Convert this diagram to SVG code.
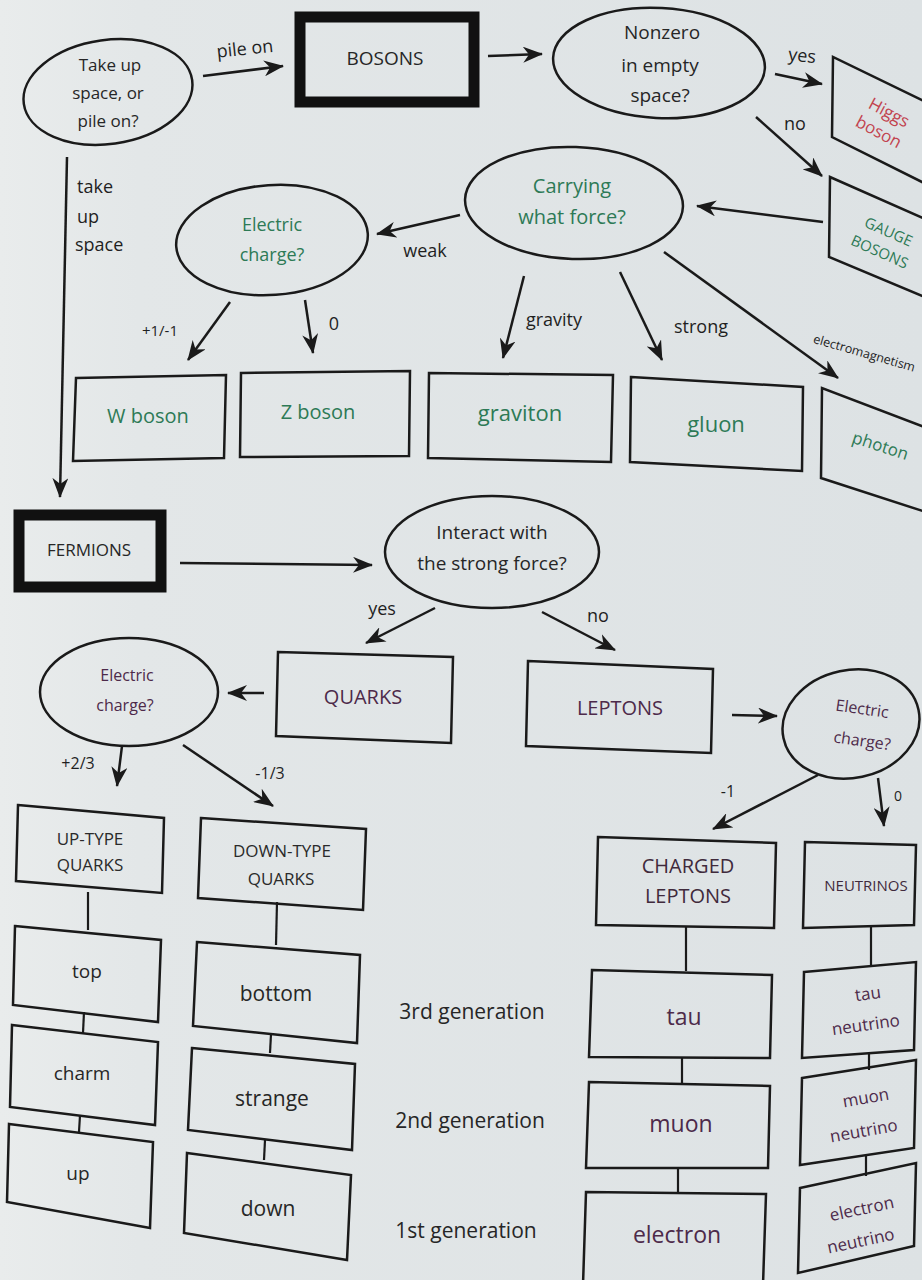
<svg xmlns="http://www.w3.org/2000/svg" width="922" height="1280" viewBox="0 0 922 1280">
<defs>
<marker id="ah" markerUnits="userSpaceOnUse" markerWidth="20" markerHeight="16" viewBox="0 0 20 16" refX="19" refY="8" orient="auto">
<path d="M0,0 L20,8 L0,16 L6,8 z" fill="#1a1a1a"/>
</marker>
<linearGradient id="bg" x1="0" y1="0" x2="1" y2="0">
<stop offset="0" stop-color="#e9ecec"/>
<stop offset="0.15" stop-color="#e3e7e8"/>
<stop offset="1" stop-color="#dde2e4"/>
</linearGradient>
</defs>
<style>
text{font-family:"Open Sans","Noto Sans","Liberation Sans",sans-serif;text-anchor:middle;dominant-baseline:middle}
.k{fill:#262626;font-size:19px}
.g{fill:#2d7a56;font-size:20px}
.p{fill:#4d2a4a;font-size:20px}
.r{fill:#c2434f;font-size:17px}
.lbl{fill:#1f1f1f;font-size:18px}
.sh{fill:none;stroke:#1a1a1a;stroke-width:2.5}
.thick{fill:none;stroke:#111;stroke-width:11}
.c{fill:none;stroke:#1a1a1a;stroke-width:2.5;marker-end:url(#ah)}
.ln{fill:none;stroke:#1a1a1a;stroke-width:2.2}
</style>
<rect width="922" height="1280" fill="url(#bg)"/>

<g id="connectors">
<path class="c" d="M203,76 L283,66"/>
<path class="c" d="M488,56 L542,54"/>
<path class="c" d="M775,74 L822,84"/>
<path class="c" d="M756,117 L822,176"/>
<path class="c" d="M823,222 L697,206"/>
<path class="c" d="M460,215 L377,234"/>
<path class="c" d="M67,157 L60,497"/>
<path class="c" d="M230,302 L188,360"/>
<path class="c" d="M305,300 L313,353"/>
<path class="c" d="M524,276 L503,358"/>
<path class="c" d="M620,272 L662,360"/>
<path class="c" d="M664,252 L838,378"/>
<path class="c" d="M180,563 L372,565"/>
<path class="c" d="M435,608 L366,643"/>
<path class="c" d="M542,612 L615,650"/>
<path class="c" d="M264,693 L228,693"/>
<path class="c" d="M732,715 L777,716"/>
<path class="c" d="M122,746 L117,786"/>
<path class="c" d="M183,745 L273,806"/>
<path class="c" d="M818,775 L713,829"/>
<path class="c" d="M878,778 L884,826"/>
<path class="ln" d="M88,892 L88,930"/>
<path class="ln" d="M84,1012 L83,1033"/>
<path class="ln" d="M80,1115 L79,1132"/>
<path class="ln" d="M277,902 L276,945"/>
<path class="ln" d="M271,1034 L270,1053"/>
<path class="ln" d="M265,1140 L264,1160"/>
<path class="ln" d="M686,926 L686,971"/>
<path class="ln" d="M682,1058 L682,1083"/>
<path class="ln" d="M678,1168 L678,1193"/>
<path class="ln" d="M871,926 L871,966"/>
<path class="ln" d="M869,1054 L869,1070"/>
<path class="ln" d="M866,1155 L866,1176"/>
<text class="lbl" x="245" y="50" transform="rotate(-6 245 50)">pile on</text>
<text class="lbl" x="802" y="57" transform="rotate(6 802 57)">yes</text>
<text class="lbl" x="795" y="125">no</text>
<text class="lbl" x="425" y="252">weak</text>
<text class="lbl" x="77" y="188" style="text-anchor:start">take</text>
<text class="lbl" x="77" y="218" style="text-anchor:start">up</text>
<text class="lbl" x="75" y="246" style="text-anchor:start">space</text>
<text class="lbl" x="160" y="332" style="font-size:15px">+1/-1</text>
<text class="lbl" x="334" y="325">0</text>
<text class="lbl" x="554" y="321">gravity</text>
<text class="lbl" x="701" y="328">strong</text>
<text class="lbl" x="864" y="354" style="font-size:12.5px" transform="rotate(16 864 354)">electromagnetism</text>
<text class="lbl" x="382" y="610">yes</text>
<text class="lbl" x="598" y="617">no</text>
<text class="lbl" x="78" y="765" style="font-size:16px">+2/3</text>
<text class="lbl" x="270" y="775" style="font-size:16px">-1/3</text>
<text class="lbl" x="728" y="793" style="font-size:16px">-1</text>
<text class="lbl" x="898" y="797" style="font-size:14px">0</text>
</g>

<g id="q-space">
<ellipse class="sh" cx="108" cy="92" rx="85" ry="52" transform="rotate(-8 108 92)"/>
<text class="k" x="110" y="66" style="font-size:17px">Take up</text>
<text class="k" x="108" y="94" style="font-size:17px">space, or</text>
<text class="k" x="108" y="122" style="font-size:17px">pile on?</text>
</g>
<g id="bosons">
<rect class="thick" x="300" y="17" width="174" height="85"/>
<text class="k" x="385" y="60">BOSONS</text>
</g>
<g id="q-nonzero">
<ellipse class="sh" cx="659" cy="63" rx="106" ry="55" transform="rotate(3 659 63)"/>
<text class="k" x="662" y="34">Nonzero</text>
<text class="k" x="660" y="67">in empty</text>
<text class="k" x="660" y="97">space?</text>
</g>
<g id="higgs">
<path class="sh" d="M932,105 L833,57 L832,137 L932,187"/>
<text class="r" x="884" y="122" transform="rotate(28 884 122)"><tspan x="884" dy="-10">Higgs</tspan><tspan x="884" dy="22">boson</tspan></text>
</g>
<g id="gauge">
<path class="sh" d="M932,222 L830,177 L829,257 L932,300"/>
<text x="884" y="242" style="fill:#2d7a56;font-size:15px" transform="rotate(24 884 242)"><tspan x="884" dy="-10">GAUGE</tspan><tspan x="884" dy="22">BOSONS</tspan></text>
</g>
<g id="q-force">
<ellipse class="sh" cx="574" cy="203" rx="109" ry="56" transform="rotate(2 574 203)"/>
<text class="g" x="572" y="188">Carrying</text>
<text class="g" x="572" y="219">what force?</text>
</g>
<g id="q-charge-boson">
<ellipse class="sh" cx="272" cy="240" rx="96" ry="55" transform="rotate(-4 272 240)"/>
<text class="g" x="272" y="226" style="font-size:18px">Electric</text>
<text class="g" x="272" y="256" style="font-size:18px">charge?</text>
</g>
<g id="w-boson">
<path class="sh" d="M76,378 L226,375 L224,458 L73,461 Z"/>
<text class="g" x="148" y="418">W boson</text>
</g>
<g id="z-boson">
<path class="sh" d="M241,373 L410,371 L409,456 L240,457 Z"/>
<text class="g" x="318" y="414">Z boson</text>
</g>
<g id="graviton">
<path class="sh" d="M429,373 L613,375 L611,462 L428,458 Z"/>
<text class="g" x="520" y="415" style="font-size:22px">graviton</text>
</g>
<g id="gluon">
<path class="sh" d="M631,377 L803,387 L802,471 L630,462 Z"/>
<text class="g" x="716" y="426" style="font-size:22px">gluon</text>
</g>
<g id="photon">
<path class="sh" d="M932,430 L822,388 L821,478 L932,514"/>
<text class="g" x="880" y="447" style="font-size:17px" transform="rotate(18 880 447)">photon</text>
</g>

<g id="fermions">
<rect class="thick" x="19" y="515" width="142" height="72"/>
<text class="k" x="89" y="551" style="font-size:17px">FERMIONS</text>
</g>
<g id="q-strong">
<ellipse class="sh" cx="492" cy="552" rx="107" ry="56"/>
<text class="k" x="492" y="534">Interact with</text>
<text class="k" x="492" y="565">the strong force?</text>
</g>
<g id="quarks">
<path class="sh" d="M278,652 L453,657 L451,743 L276,736 Z"/>
<text class="p" x="363" y="699">QUARKS</text>
</g>
<g id="leptons">
<path class="sh" d="M528,661 L713,669 L711,753 L526,746 Z"/>
<text class="p" x="620" y="710">LEPTONS</text>
</g>
<g id="q-charge-quark">
<ellipse class="sh" cx="129" cy="692" rx="89" ry="54"/>
<text class="p" x="127" y="677" style="font-size:16px">Electric</text>
<text class="p" x="125" y="707" style="font-size:16px">charge?</text>
</g>
<g id="q-charge-lepton">
<ellipse class="sh" cx="851" cy="724" rx="69" ry="54" transform="rotate(-12 851 724)"/>
<text class="p" x="862" y="710" style="font-size:16px" transform="rotate(8 862 710)">Electric</text>
<text class="p" x="862" y="742" style="font-size:16px" transform="rotate(8 862 742)">charge?</text>
</g>

<g id="up-type">
<path class="sh" d="M18,805 L164,818 L162,893 L16,881 Z"/>
<text class="p" x="90" y="840" style="font-size:17px;fill:#2a2a2a">UP-TYPE</text>
<text class="p" x="90" y="866" style="font-size:17px;fill:#2a2a2a">QUARKS</text>
</g>
<g id="down-type">
<path class="sh" d="M201,818 L366,829 L363,910 L198,898 Z"/>
<text class="p" x="282" y="852" style="font-size:17px;fill:#2a2a2a">DOWN-TYPE</text>
<text class="p" x="281" y="880" style="font-size:17px;fill:#2a2a2a">QUARKS</text>
</g>
<g id="top">
<path class="sh" d="M15,926 L161,940 L158,1022 L13,1005 Z"/>
<text class="k" x="87" y="973">top</text>
</g>
<g id="charm">
<path class="sh" d="M12,1025 L158,1042 L155,1125 L10,1107 Z"/>
<text class="k" x="82" y="1075">charm</text>
</g>
<g id="up">
<path class="sh" d="M9,1124 L153,1142 L150,1228 L7,1202 Z"/>
<text class="k" x="78" y="1175">up</text>
</g>
<g id="bottom">
<path class="sh" d="M197,942 L360,955 L357,1043 L193,1026 Z"/>
<text class="k" x="276" y="995" style="font-size:21px">bottom</text>
</g>
<g id="strange">
<path class="sh" d="M192,1048 L355,1064 L352,1150 L188,1130 Z"/>
<text class="k" x="272" y="1100" style="font-size:21px">strange</text>
</g>
<g id="down">
<path class="sh" d="M187,1153 L351,1175 L347,1260 L184,1233 Z"/>
<text class="k" x="268" y="1210" style="font-size:21px">down</text>
</g>
<g id="generations">
<text class="k" x="472" y="1013" style="font-size:21px">3rd generation</text>
<text class="k" x="470" y="1122" style="font-size:21px">2nd generation</text>
<text class="k" x="466" y="1232" style="font-size:21px">1st generation</text>
</g>
<g id="charged-leptons">
<path class="sh" d="M598,837 L776,843 L774,928 L596,925 Z"/>
<text class="p" x="688" y="868" style="fill:#3f2a3c">CHARGED</text>
<text class="p" x="688" y="898" style="fill:#3f2a3c">LEPTONS</text>
</g>
<g id="neutrinos">
<path class="sh" d="M805,842 L916,845 L914,925 L803,928 Z"/>
<text class="p" x="866" y="887" style="font-size:15px;fill:#3f2a3c">NEUTRINOS</text>
</g>
<g id="tau">
<path class="sh" d="M592,970 L772,975 L770,1058 L589,1057 Z"/>
<text class="p" x="684" y="1019" style="font-size:23px">tau</text>
</g>
<g id="muon">
<path class="sh" d="M589,1082 L770,1086 L768,1168 L586,1168 Z"/>
<text class="p" x="681" y="1126" style="font-size:23px">muon</text>
</g>
<g id="electron">
<path class="sh" d="M586,1192 L766,1194 L763,1285 L583,1285 Z"/>
<text class="p" x="677" y="1237" style="font-size:23px">electron</text>
</g>
<g id="tau-neutrino">
<path class="sh" d="M804,972 L916,962 L914,1050 L802,1058 Z"/>
<text class="p" x="868" y="995" style="font-size:17px" transform="rotate(-8 868 995)">tau</text>
<text class="p" x="866" y="1026" style="font-size:17px" transform="rotate(-8 866 1026)">neutrino</text>
</g>
<g id="muon-neutrino">
<path class="sh" d="M802,1078 L916,1060 L914,1148 L800,1165 Z"/>
<text class="p" x="866" y="1099" style="font-size:17px" transform="rotate(-10 866 1099)">muon</text>
<text class="p" x="864" y="1132" style="font-size:17px" transform="rotate(-10 864 1132)">neutrino</text>
</g>
<g id="electron-neutrino">
<path class="sh" d="M800,1188 L916,1163 L914,1246 L798,1273 Z"/>
<text class="p" x="862" y="1210" style="font-size:17px" transform="rotate(-12 862 1210)">electron</text>
<text class="p" x="861" y="1242" style="font-size:17px" transform="rotate(-12 861 1242)">neutrino</text>
</g>
</svg>
